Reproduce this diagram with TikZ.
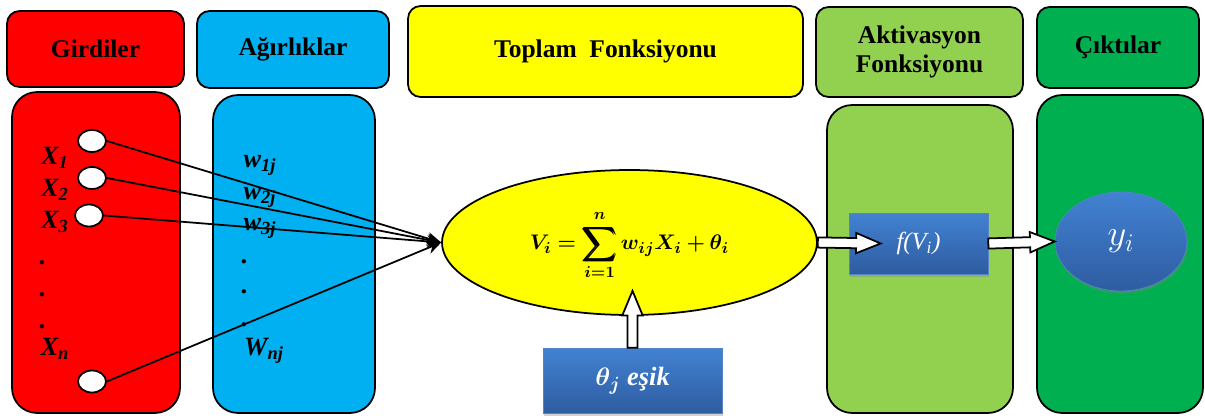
\documentclass[tikz,border=0pt]{standalone}
\usepackage[no-math]{fontspec}
\setmainfont{Liberation Serif}
\usepackage{bm}
\usepackage{graphicx}
\usetikzlibrary{shapes.geometric,shadows,calc,arrows.meta}
\definecolor{girdirenk}{RGB}{255,0,0}
\definecolor{agirlikrenk}{RGB}{0,176,240}
\definecolor{toplamrenk}{RGB}{255,255,0}
\definecolor{aktivrenk}{RGB}{146,208,80}
\definecolor{ciktirenk}{RGB}{0,176,80}
\definecolor{maviust}{RGB}{66,130,210}
\definecolor{mavialt}{RGB}{46,92,160}
\definecolor{mavikenar}{RGB}{84,132,200}
% larger summation sign
\newcommand{\buyuktoplam}{\mathop{\vcenter{\hbox{\scalebox{1.35}{$\displaystyle\bm{\sum}$}}}}\limits}
% hollow block arrow from #1 to #2
\newcommand{\bosok}[2]{%
  \path ($(#2)!14pt!(#1)$) coordinate (okbas);
  \draw[line width=1pt, fill=white] ($(#1)!2.9pt!90:(#2)$) -- ($(okbas)!2.9pt!90:(#2)$)
    -- ($(okbas)!5.8pt!90:(#2)$) -- (#2) -- ($(okbas)!5.8pt!-90:(#2)$)
    -- ($(okbas)!2.9pt!-90:(#2)$) -- ($(#1)!2.9pt!-90:(#2)$) -- cycle;}
\begin{document}
\begin{tikzpicture}[x=0.02cm, y=-0.02cm, >={Stealth[length=8pt,width=7pt]}, line width=1pt,
    baslik/.style={draw, rounded corners=0.25cm, inner sep=0pt, align=center,
      font=\fontsize{14.5}{16.5}\selectfont\bfseries},
    panel/.style={draw, rounded corners=0.5cm},
    giris/.style={ellipse, draw, fill=white, inner sep=0pt,
      minimum width=0.56cm, minimum height=0.44cm},
    etiket/.style={inner sep=0pt, font=\fontsize{15}{18}\selectfont\bfseries\itshape},
    mavikutu/.style={draw=mavikenar, thin, top color=maviust, bottom color=mavialt, text=white,
      drop shadow={opacity=0.35, shadow xshift=0.6pt, shadow yshift=-1.5pt}}]
    \useasboundingbox (0,0) rectangle (1205,419);
    \fill[white] (0,0) rectangle (1205,419);
    % Headers
    \node[baslik, fill=girdirenk, minimum width=3.54cm, minimum height=1.52cm] (girdiler) at (95.5,49) {Girdiler};
    \node[baslik, fill=agirlikrenk, minimum width=3.84cm, minimum height=1.54cm] (agirliklar) at (293,49.5) {Ağırlıklar};
    \node[baslik, fill=toplamrenk, minimum width=7.9cm, minimum height=1.82cm] (toplam) at (605.5,51.5) {Toplam\ \ Fonksiyonu};
    \node[baslik, fill=aktivrenk, minimum width=4.14cm, minimum height=1.8cm] (aktivasyon) at (919.5,52) {Aktivasyon\\Fonksiyonu};
    \node[baslik, fill=ciktirenk, minimum width=3.24cm, minimum height=1.62cm] (ciktilar) at (1118,47.5) {Çıktılar};
    % Panels
    \node[panel, fill=girdirenk, minimum width=3.36cm, minimum height=6.42cm] (girdipanel) at (96,252.5) {};
    \node[panel, fill=agirlikrenk, minimum width=3.24cm, minimum height=6.36cm] (agirlikpanel) at (294,254) {};
    \node[panel, fill=aktivrenk, minimum width=3.72cm, minimum height=6.16cm] (aktivpanel) at (920,259) {};
    \node[panel, fill=ciktirenk, minimum width=3.32cm, minimum height=6.36cm] (ciktipanel) at (1120,254) {};
    % Inputs
    \node[giris] (c1) at (92,141) {};
    \node[giris] (c2) at (92,178) {};
    \node[giris] (c3) at (89,215.5) {};
    \node[giris] (cn) at (92,381.5) {};
    \node[etiket] (x1) at (55,158) {X\textsubscript{1}};
    \node[etiket] (x2) at (55,190) {X\textsubscript{2}};
    \node[etiket] (x3) at (55,222) {X\textsubscript{3}};
    \foreach \y in {263,295,327} \node[etiket] at (43,\y) {.};
    \node[etiket] (xn) at (55,349) {X\textsubscript{n}};
    % Weights
    \node[etiket] (w1) at (260,165) {w\textsubscript{1j}};
    \node[etiket] (w2) at (260,197) {w\textsubscript{2j}};
    \node[etiket] (w3) at (260,228) {w\textsubscript{3j}};
    \foreach \y in {262,292,325} \node[etiket] at (245,\y) {.};
    \node[etiket] (wn) at (264,351) {W\textsubscript{nj}};
    % Summation
    \node[ellipse, draw, fill=toplamrenk, inner sep=0pt, minimum width=7.5cm,
      minimum height=2.9cm, font=\fontsize{13}{16}\selectfont] (sum) at (629.5,242.5)
      {$\displaystyle \bm{V_i =} \buyuktoplam_{\bm{i=1}}^{\bm{n}\vphantom{(}} \bm{w_{ij} X_i + \theta_i}$};
    \node[mavikutu, minimum width=3.58cm, minimum height=1.3cm,
      font=\fontsize{15}{18}\selectfont\bfseries\itshape] (esik) at (632.5,380.5) {$\bm{\theta_j}$ eşik};
    % Activation and output
    \node[mavikutu, minimum width=2.78cm, minimum height=1.22cm,
      font=\fontsize{14}{16}\selectfont\itshape] (fvi) at (918.5,243.5) {f(V\textsubscript{i})};
    \node[ellipse, mavikutu, minimum width=2.64cm, minimum height=1.98cm,
      font=\fontsize{21}{24}\selectfont] (yi) at (1121,241.5) {$y_i$};
    % Input lines
    \foreach \c in {c1,c2,c3,cn} \draw[->] (\c.east) -- (sum.west);
    % Block arrows
    \coordinate (ftip) at ($(fvi.west)+(32,0)$);
    \bosok{sum.east}{ftip}
    \bosok{fvi.east}{yi.west}
    \coordinate (esiktip) at ($(esik.north |- sum.south)+(0,-25)$);
    \bosok{esik.north}{esiktip}
\end{tikzpicture}
\end{document}
